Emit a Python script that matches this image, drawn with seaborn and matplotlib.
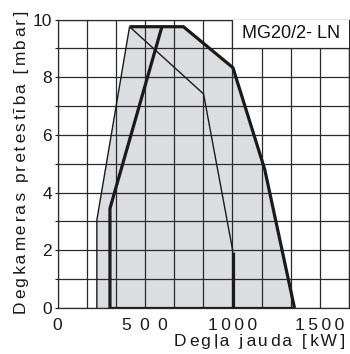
import matplotlib
matplotlib.use("Agg")
import matplotlib.pyplot as plt
import seaborn as sns
import numpy as np
import pandas as pd

# ---- data (kW, mbar) ----
outer_x = [225, 225, 412, 720, 1003, 1185, 1355]
outer_y = [0, 3.05, 9.75, 9.75, 8.33, 4.8, 0]

thin_x = [225, 225, 412, 835, 1003]
thin_y = [0, 3.05, 9.75, 7.42, 1.95]

thick_right_x = [412, 720, 1003, 1185, 1355]
thick_right_y = [9.75, 9.75, 8.33, 4.8, 0]

thick_left_x = [300, 300, 597]
thick_left_y = [0, 3.45, 9.75]

thick_bottom_x = [300, 1355]
thick_bottom_y = [0, 0]

thick_mid_x = [1003, 1003]
thick_mid_y = [1.95, 0]

x_tick_values = [0, 500, 1000, 1500]
x_tick_labels = ["0", "5 \u20090 \u20090", "1\u20090\u20090\u20090", "1\u20095\u20090\u20090"]
y_tick_values = [0, 2, 4, 6, 8, 10]
y_tick_labels = ["0", "2", "4", "6", "8", "10"]
model_label = "MG20/2- LN"
xlabel = "Degļa jauda [kW]"
ylabel = "Degkameras pretestība [mbar]"

sns.set_style("white")
plt.rcParams["font.family"] = ["Liberation Sans", "DejaVu Sans"]


def spaced(s):
    out = ""
    for i, ch in enumerate(s):
        out += ch
        if i < len(s) - 1:
            out += "\u2009" if i % 2 == 0 else "\u200a"
    return out


fig = plt.figure(figsize=(3.5, 3.54), dpi=100)
ax = fig.add_axes([57.5 / 350, 1 - 308 / 354, (349 - 57.5) / 350, (308 - 19.5) / 354])

XMAX = 5000 / 3
ax.set_xlim(0, XMAX)
ax.set_ylim(0, 10)

gridc = "#2a2a2a"
for k in range(11):
    ax.axvline(k * XMAX / 10, color=gridc, lw=0.9, zorder=2)
for k in range(11):
    ax.axhline(k, color=gridc, lw=0.9, zorder=2)

ax.fill(outer_x, outer_y, color="#dcdde0", lw=0, zorder=1)

ax.fill([1000, XMAX, XMAX, 1000], [9, 9, 10, 10], color="white", lw=0, zorder=3)
ax.plot([1000, 1000, XMAX], [10, 9, 9], color=gridc, lw=0.9, zorder=3.5)
ax.text(1333, 9.5, model_label, ha="center", va="center", fontsize=13, color="#111111", zorder=4)

lc = "#1a1a1a"
def line(xs, ys, lw):
    sns.lineplot(x=xs, y=ys, sort=False, estimator=None, color=lc, lw=lw, ax=ax,
                 zorder=5, solid_capstyle="butt", solid_joinstyle="miter")

line(thin_x, thin_y, 1.0)
line(thick_right_x, thick_right_y, 2.3)
line(thick_left_x, thick_left_y, 2.3)
line(thick_bottom_x, thick_bottom_y, 2.3)
line(thick_mid_x, thick_mid_y, 2.3)

for s in ax.spines.values():
    s.set_color(gridc)
    s.set_linewidth(0.9)

ax.set_xticks(x_tick_values)
ax.set_xticklabels(x_tick_labels)
ax.set_yticks(y_tick_values)
ax.set_yticklabels(y_tick_labels)
ax.set_yticks(np.arange(0, 11, 1), minor=True)
ax.tick_params(axis="x", length=0, pad=7, labelsize=12.5, colors="#1a1a1a")
ax.tick_params(axis="y", which="both", length=2.5, width=0.8, pad=1.5, labelsize=12.5,
               colors="#1a1a1a", left=True)
ax.set_xlabel("")
ax.set_ylabel("")

fig.text(345 / 350, 1 - 346 / 354, spaced(xlabel), ha="right", va="baseline",
         fontsize=12.5, color="#1a1a1a")
fig.text(22 / 350, 1 - 162.5 / 354, spaced(ylabel), ha="center", va="center",
         rotation=90, fontsize=12.5, color="#1a1a1a")

fig.savefig("out.png", dpi=100)
